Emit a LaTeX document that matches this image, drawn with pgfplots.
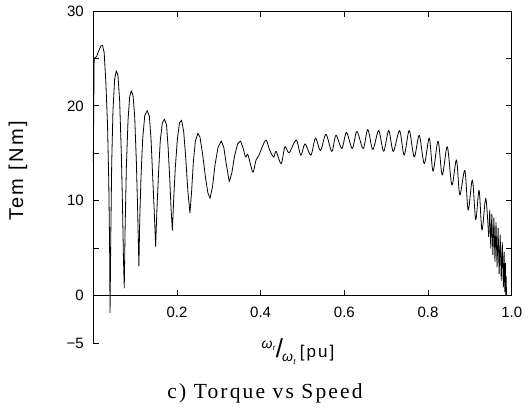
\documentclass[border=0pt]{standalone}
\usepackage{fontspec}
\setmainfont{Liberation Sans}
\newfontfamily\capfont[LetterSpace=10]{Liberation Serif}
\newfontfamily\labfont[LetterSpace=12]{Liberation Sans}
\usepackage{pgfplots}
\pgfplotsset{compat=1.18}
\usetikzlibrary{calc}

\begin{document}
\begin{tikzpicture}
\path[use as bounding box] (0,0) rectangle (531pt,408pt);
\begin{axis}[
  at={(93.3pt,65pt)}, anchor=south west, scale only axis,
  width=418.4pt, height=332pt,
  xmin=0, xmax=1, ymin=-5, ymax=30,
  axis line style={draw=none}, major tick style={draw=none},
  xtick={0.2,0.4,0.6,0.8,1.0}, xticklabels={0.2,0.4,0.6,0.8,1.0},
  ytick={-5,0,10,20,30}, yticklabels={−5,0,10,20,30},
  tick label style={font=\fontsize{15}{15}\selectfont},
  xticklabel style={yshift=39.5pt},
  yticklabel style={xshift=-6pt},
  clip=false,
]
% corner points for the hand-drawn frame
\coordinate (LB) at (axis cs:0,-5);
\coordinate (LT) at (axis cs:0,30);
\coordinate (RT) at (axis cs:1,30);
\coordinate (R0) at (axis cs:1,0);
\coordinate (L0) at (axis cs:0,0);

% start-up: large decaying oscillations
\addplot[black, line width=0.8pt, line join=round] coordinates {
 (0,14) (0.002,25) (0.008,25.2) (0.013,25.8) (0.018,26.3) (0.022,26.4)
 (0.026,25.6) (0.030,22.5) (0.034,18) (0.037,12) (0.039,5) (0.040,-1.8)
 (0.042,7) (0.044,14) (0.047,19.5) (0.051,22.8) (0.055,23.7) (0.059,23.2)
 (0.063,20.5) (0.067,15) (0.070,9) (0.072,4) (0.074,0.8) (0.076,7)
 (0.079,13.5) (0.083,18.5) (0.087,21) (0.091,21.6) (0.095,21.1) (0.099,18.8)
 (0.103,14) (0.106,9) (0.108,5) (0.109,3.1) (0.111,8) (0.114,12.5)
 (0.118,16.5) (0.123,19) (0.129,19.5) (0.134,18.9) (0.138,16.5) (0.142,12.5)
 (0.146,8.5) (0.149,5.2) (0.152,9) (0.156,13) (0.160,16.3) (0.165,18.2)
 (0.170,18.6) (0.175,18) (0.179,15.5) (0.183,12) (0.186,9) (0.189,6.9)
 (0.192,10) (0.196,13.5) (0.201,16.5) (0.206,18.2) (0.211,18.5) (0.216,17.3)
 (0.221,14.5) (0.226,11) (0.231,8.7) (0.235,11) (0.239,14) (0.244,16.3)
 (0.250,17.1) (0.255,16.7) (0.261,15) (0.268,12.5) (0.274,10.8) (0.279,10.25)
 (0.285,11.5) (0.291,13.8) (0.298,15.6) (0.306,16.3) (0.312,15.6) (0.318,13.8)
 (0.325,12.0) (0.331,12.9) (0.338,14.8) (0.345,16) (0.352,16.3)
};
% running-up: small ripple around 15-17 Nm
\addplot[black, line width=0.8pt, smooth, line join=round] coordinates {
 (0.352,16.3) (0.359,15.4) (0.364,14.6) (0.369,14.9) (0.376,13.8) (0.382,13.0)
 (0.389,14.3) (0.396,14.8) (0.404,15.7) (0.413,16.4) (0.421,15.4) (0.431,14.6)
 (0.437,15.2) (0.449,13.9) (0.458,15.7) (0.468,15.05) (0.485,16.4) (0.496,14.8)
 (0.506,16.0) (0.520,14.8) (0.531,16.6) (0.543,15.3) (0.556,17.0) (0.570,15.2)
 (0.580,16.9) (0.594,15.5) (0.605,17.2) (0.619,15.5) (0.630,17.3) (0.645,15.5)
 (0.656,17.5) (0.668,15.4) (0.682,17.4) (0.694,15.2) (0.706,17.4) (0.717,15.2)
 (0.732,17.4) (0.743,14.8) (0.755,17.4) (0.767,14.6) (0.779,16.9) (0.791,13.9)
 (0.803,16.6) (0.812,13.1) (0.824,16.3) (0.834,12.7) (0.846,15.7) (0.857,11.65)
 (0.868,14.3) (0.876,10.6) (0.888,13.2) (0.896,9.0) (0.906,12.2) (0.914,8.0)
 (0.922,11.1) (0.929,6.9) (0.938,10.25) (0.945,6.2)
};
% near synchronous speed: dense oscillation
\addplot[black, line width=0.8pt, line join=round] coordinates {
 (0.945,6.2) (0.9475,9.0) (0.950,5.0) (0.9525,8.6) (0.955,4.3) (0.9575,8.2)
 (0.960,3.6) (0.9625,7.7) (0.965,3.0) (0.9675,7.1) (0.970,2.3) (0.9725,6.4)
 (0.975,1.6) (0.9775,5.6) (0.980,0.9) (0.982,4.6) (0.9835,0.4) (0.985,3.4)
 (0.986,0.0) (0.9868,2.0) (0.9875,0.1)
};
\end{axis}

% frame: left spine down to -5, x axis at 0, right spine stops at 0
\draw[line width=0.9pt] (LB) -- (LT) -- (RT) -- (R0) -- (L0);
% ticks, all pointing inwards (5 Nm = 47.43pt, 0.2 pu = 83.68pt)
\foreach \i in {0,...,7}
  \draw[line width=0.9pt] ($(LB)+(0pt,\i*47.43pt)$) -- ++(6pt,0pt);
\foreach \i in {1,...,5}
  \draw[line width=0.9pt] ($(R0)+(0pt,\i*47.43pt)$) -- ++(-6pt,0pt);
\foreach \i in {1,...,4} {
  \draw[line width=0.9pt] ($(LT)+(\i*83.68pt,0pt)$) -- ++(0pt,-6pt);
  \draw[line width=0.9pt] ($(L0)+(\i*83.68pt,0pt)$) -- ++(0pt,6pt);
}

\node[rotate=90, font=\labfont\fontsize{20}{20}\selectfont] at (18pt,237pt) {Tem [Nm]};
\node[font=\fontsize{17}{17}\selectfont, inner sep=0pt] at (298pt,56pt)
  {\raisebox{0.55em}{\fontsize{14}{14}\selectfont\itshape ω\kern0.02em\raisebox{-0.15em}{\fontsize{8}{8}\selectfont r}}\kern0.02em{\fontsize{26}{26}\selectfont /}\kern-0.05em\raisebox{-0.2em}{\fontsize{14}{14}\selectfont\itshape ω\kern0.02em\raisebox{-0.25em}{\fontsize{8}{8}\selectfont t}}\kern0.25em{\labfont[pu]}};
\node[font=\capfont\fontsize{21.5}{21.5}\selectfont] at (265pt,15pt) {c) Torque vs Speed};
\end{tikzpicture}
\end{document}
